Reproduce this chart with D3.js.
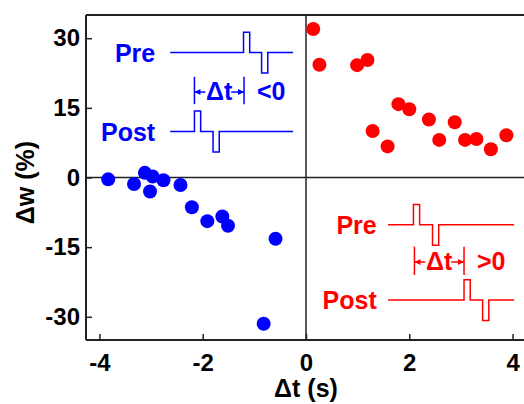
<!DOCTYPE html>
<html>
<head>
<meta charset="utf-8">
<script src="https://cdn.jsdelivr.net/npm/d3@7"></script>
<style>
  html, body { margin: 0; padding: 0; background: #fff; }
  svg { display: block; }
  text { font-family: "Liberation Sans", Arial, sans-serif; font-weight: bold; }
</style>
</head>
<body>
<svg id="chart" width="524" height="404"></svg>
<script>
// ---- data ----
const negDt = [-3.83, -3.33, -3.12, -2.97, -3.02, -2.76, -2.43, -2.21, -1.91, -1.62, -1.51, -0.59, -0.82];
const negDw = [-0.4, -1.4, 1.0, 0.2, -3.0, -0.6, -1.6, -6.4, -9.4, -8.4, -10.4, -13.2, -31.5];
const posDt = [0.14, 0.26, 0.99, 1.19, 1.79, 2.00, 1.29, 1.58, 2.38, 2.88, 2.58, 3.08, 3.30, 3.58, 3.88];
const posDw = [32.0, 24.3, 24.2, 25.3, 15.8, 14.7, 10.0, 6.7, 12.5, 11.9, 8.1, 8.1, 8.3, 6.1, 9.1];
const xTicks = [-4, -2, 0, 2, 4];
const yTicks = [-30, -15, 0, 15, 30];
const xLabel = "\u0394t (s)";
const yLabel = "\u0394w (%)";

const svg = d3.select("#chart");
const W = 524, H = 404;
const L = 86, T = 15, B = 340, R = 526;

const x = d3.scaleLinear().domain([-4.26, 4.26]).range([L, R]);
const y = d3.scaleLinear().domain([-35, 35]).range([B, T]);

const axisColor = "#222";

// zero lines
svg.append("line").attr("x1", L).attr("x2", W).attr("y1", y(0)).attr("y2", y(0))
  .attr("stroke", axisColor).attr("stroke-width", 1.5);
svg.append("line").attr("x1", x(0)).attr("x2", x(0)).attr("y1", T).attr("y2", B)
  .attr("stroke", axisColor).attr("stroke-width", 1.5);

// frame top
svg.append("line").attr("x1", L).attr("x2", W).attr("y1", T).attr("y2", T)
  .attr("stroke", axisColor).attr("stroke-width", 2);

// axes
const yAxis = svg.append("g").attr("transform", `translate(${L},0)`)
  .call(d3.axisLeft(y).tickValues(yTicks).tickFormat(d => String(d))
    .tickSizeInner(-6).tickSizeOuter(0).tickPadding(6));
const xAxis = svg.append("g").attr("transform", `translate(0,${B})`)
  .call(d3.axisBottom(x).tickValues(xTicks).tickFormat(d => String(d))
    .tickSizeInner(-6).tickSizeOuter(0).tickPadding(14));
[yAxis, xAxis].forEach(a => {
  a.select(".domain").attr("stroke", axisColor).attr("stroke-width", 2);
  a.selectAll(".tick line").attr("stroke", axisColor).attr("stroke-width", 1.5);
  a.selectAll(".tick text").attr("fill", "#000")
    .style("font-family", '"Liberation Sans", Arial, sans-serif')
    .style("font-weight", "bold").style("font-size", "24px");
});
xAxis.select(".domain").attr("d", `M${L},0H${W}`);
yAxis.select(".domain").attr("d", `M0,${T}V${B}`);

// axis labels
svg.append("text").attr("x", x(0)).attr("y", 397).attr("text-anchor", "middle")
  .style("font-size", "25px").attr("fill", "#000").text(xLabel);
svg.append("text").attr("transform", `translate(34,${(T + B) / 2 + 5}) rotate(-90)`)
  .attr("text-anchor", "middle").style("font-size", "25px").attr("fill", "#000").text(yLabel);

// points
const blue = "#0000ff", red = "#ff0000";
svg.append("g").selectAll("circle").data(negDt.map((d, i) => [d, negDw[i]])).join("circle")
  .attr("cx", d => x(d[0])).attr("cy", d => y(d[1])).attr("r", 7).attr("fill", blue);
svg.append("g").selectAll("circle").data(posDt.map((d, i) => [d, posDw[i]])).join("circle")
  .attr("cx", d => x(d[0])).attr("cy", d => y(d[1])).attr("r", 7).attr("fill", red);

// ---- schematic insets (in data units) ----
function pulseTrain(x0, x1, base, upX, downX, w, amp) {
  return [[x0, base], [upX, base], [upX, base + amp], [upX + w, base + amp], [upX + w, base],
          [downX, base], [downX, base - amp], [downX + w, base - amp], [downX + w, base], [x1, base]];
}
const line = d3.line().x(d => x(d[0])).y(d => y(d[1]));

function inset(o) {
  const g = svg.append("g");
  g.append("path").attr("d", line(pulseTrain(o.x0, o.x1, o.preY, o.preUp, o.preDown, 0.12, 4.4)))
    .attr("fill", "none").attr("stroke", o.color).attr("stroke-width", 1.5);
  g.append("path").attr("d", line(pulseTrain(o.x0, o.x1, o.postY, o.postUp, o.postDown, 0.12, 4.4)))
    .attr("fill", "none").attr("stroke", o.color).attr("stroke-width", 1.5);
  g.append("text").attr("x", x(o.labelX)).attr("y", y(o.preY) + 9).attr("text-anchor", "end")
    .style("font-size", "25px").attr("fill", o.color).text("Pre");
  g.append("text").attr("x", x(o.labelX)).attr("y", y(o.postY) + 9).attr("text-anchor", "end")
    .style("font-size", "25px").attr("fill", o.color).text("Post");
  // delta-t marker
  const bx1 = x(o.barA), bx2 = x(o.barB);
  [bx1, bx2].forEach(bx => g.append("line").attr("x1", bx).attr("x2", bx)
    .attr("y1", y(o.barTop)).attr("y2", y(o.barBot)).attr("stroke", o.color).attr("stroke-width", 1.5));
  const ay = y(o.arrowY);
  const mid = (bx1 + bx2) / 2;
  g.append("line").attr("x1", bx1).attr("x2", mid - 14).attr("y1", ay).attr("y2", ay)
    .attr("stroke", o.color).attr("stroke-width", 1.5);
  g.append("line").attr("x1", mid + 12).attr("x2", bx2).attr("y1", ay).attr("y2", ay)
    .attr("stroke", o.color).attr("stroke-width", 1.5);
  g.append("path").attr("d", `M${bx1},${ay}l6,-3v6z`).attr("fill", o.color);
  g.append("path").attr("d", `M${bx2},${ay}l-6,-3v6z`).attr("fill", o.color);
  g.append("text").attr("x", mid).attr("y", ay + 8).attr("text-anchor", "middle")
    .style("font-size", "25px").attr("fill", o.color).text("\u0394t");
  g.append("text").attr("x", bx2 + 13).attr("y", ay + 8)
    .style("font-size", "25px").attr("fill", o.color).text(o.sign);
}

inset({ color: blue, x0: -2.63, x1: -0.25, preY: 26.9, postY: 9.9,
  preUp: -1.21, preDown: -0.86, postUp: -2.16, postDown: -1.80,
  labelX: -2.92, barA: -2.16, barB: -1.20, barTop: 21.7, barBot: 15.8, arrowY: 18.4, sign: "<0" });
inset({ color: red, x0: 1.59, x1: 4.03, preY: -10.2, postY: -26.4,
  preUp: 2.08, preDown: 2.45, postUp: 3.06, postDown: 3.42,
  labelX: 1.37, barA: 2.10, barB: 3.06, barTop: -14.9, barBot: -21.0, arrowY: -18.2, sign: ">0" });
</script>
</body>
</html>
